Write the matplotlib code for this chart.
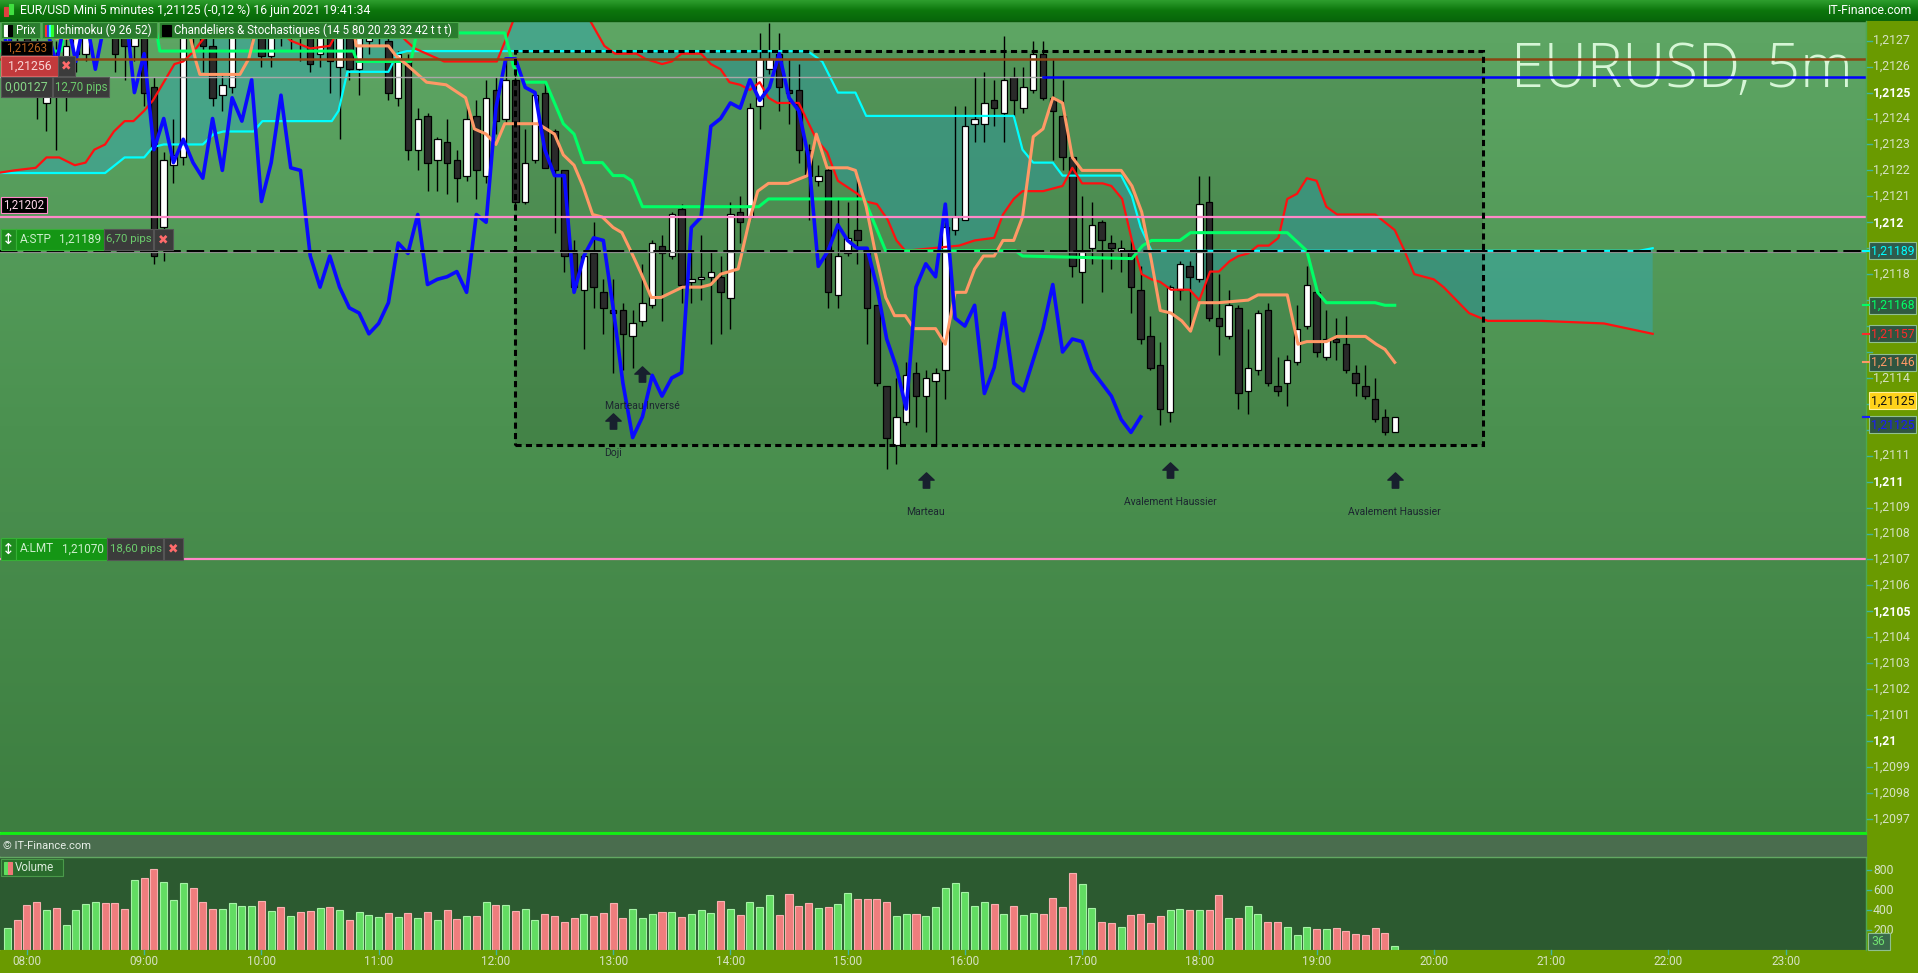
import numpy as np
import matplotlib.pyplot as plt
from matplotlib.patches import Rectangle, Polygon
from matplotlib.path import Path
from matplotlib.colors import LinearSegmentedColormap

plt.rcParams['font.family'] = ['Roboto', 'DejaVu Sans']

# ---------------- data : EUR/USD 5 minutes, bar 0 = 07:50 ----------------
opens = [
    1.21270, 1.21285, 1.21272, 1.21262, 1.21246, 1.21262, 1.21250, 1.21265, 1.21265, 1.21285,
    1.21298, 1.21290, 1.21275, 1.21268, 1.21298, 1.21252, 1.21198, 1.21222, 1.21225, 1.21288,
    1.21280, 1.21268, 1.21249, 1.21252, 1.21285, 1.21290, 1.21300, 1.21264, 1.21292, 1.21280,
    1.21292, 1.21280, 1.21265, 1.21282, 1.21260, 1.21280, 1.21259, 1.21270, 1.21272, 1.21270,
    1.21248, 1.21263, 1.21228, 1.21241, 1.21224, 1.21231, 1.21224, 1.21218, 1.21241, 1.21218,
    1.21251, 1.21240, 1.21255, 1.21208, 1.21224, 1.21250, 1.21235, 1.21220, 1.21188, 1.21174,
    1.21188, 1.21173, 1.21166, 1.21166, 1.21156, 1.21162, 1.21168, 1.21191, 1.21187, 1.21205,
    1.21177, 1.21178, 1.21179, 1.21179, 1.21171, 1.21204, 1.21202, 1.21245, 1.21259, 1.21265,
    1.21251, 1.21251, 1.21228, 1.21216, 1.21220, 1.21172, 1.21188, 1.21197, 1.21189, 1.21168,
    1.21137, 1.21114, 1.21123, 1.21142, 1.21133, 1.21139, 1.21143, 1.21197, 1.21201, 1.21238,
    1.21238, 1.21247, 1.21242, 1.21256, 1.21244, 1.21251, 1.21265, 1.21248, 1.21241, 1.21225,
    1.21181, 1.21190, 1.21200, 1.21192, 1.21189, 1.21189, 1.21174, 1.21156, 1.21145, 1.21127,
    1.21174, 1.21183, 1.21178, 1.21208, 1.21163, 1.21156, 1.21167, 1.21135, 1.21143, 1.21166,
    1.21137, 1.21138, 1.21146, 1.21160, 1.21173, 1.21148, 1.21155, 1.21153, 1.21142, 1.21137,
    1.21132, 1.21125, 1.21119]
highs = [
    1.21290, 1.21295, 1.21280, 1.21275, 1.21266, 1.21270, 1.21275, 1.21285, 1.21300, 1.21305,
    1.21310, 1.21295, 1.21290, 1.21305, 1.21305, 1.21256, 1.21227, 1.21240, 1.21290, 1.21300,
    1.21288, 1.21275, 1.21257, 1.21292, 1.21305, 1.21310, 1.21305, 1.21298, 1.21300, 1.21298,
    1.21296, 1.21285, 1.21288, 1.21285, 1.21285, 1.21285, 1.21285, 1.21290, 1.21290, 1.21280,
    1.21266, 1.21265, 1.21244, 1.21242, 1.21233, 1.21240, 1.21228, 1.21246, 1.21247, 1.21255,
    1.21256, 1.21263, 1.21259, 1.21236, 1.21250, 1.21254, 1.21236, 1.21220, 1.21193, 1.21189,
    1.21200, 1.21178, 1.21178, 1.21169, 1.21166, 1.21184, 1.21193, 1.21195, 1.21204, 1.21207,
    1.21189, 1.21195, 1.21189, 1.21187, 1.21208, 1.21210, 1.21246, 1.21273, 1.21277, 1.21273,
    1.21263, 1.21261, 1.21230, 1.21222, 1.21221, 1.21209, 1.21208, 1.21218, 1.21190, 1.21168,
    1.21137, 1.21140, 1.21146, 1.21146, 1.21143, 1.21144, 1.21200, 1.21245, 1.21245, 1.21256,
    1.21258, 1.21255, 1.21272, 1.21260, 1.21260, 1.21270, 1.21270, 1.21263, 1.21255, 1.21226,
    1.21210, 1.21208, 1.21201, 1.21195, 1.21193, 1.21193, 1.21183, 1.21164, 1.21154, 1.21176,
    1.21185, 1.21185, 1.21218, 1.21218, 1.21180, 1.21174, 1.21168, 1.21159, 1.21166, 1.21169,
    1.21148, 1.21149, 1.21168, 1.21183, 1.21173, 1.21166, 1.21163, 1.21164, 1.21145, 1.21145,
    1.21140, 1.21128, 1.21125]
lows = [
    1.21262, 1.21265, 1.21255, 1.21240, 1.21235, 1.21228, 1.21243, 1.21258, 1.21262, 1.21278,
    1.21280, 1.21258, 1.21255, 1.21262, 1.21245, 1.21184, 1.21185, 1.21215, 1.21222, 1.21265,
    1.21258, 1.21245, 1.21243, 1.21250, 1.21272, 1.21268, 1.21260, 1.21260, 1.21268, 1.21266,
    1.21262, 1.21258, 1.21260, 1.21250, 1.21232, 1.21255, 1.21249, 1.21265, 1.21268, 1.21247,
    1.21245, 1.21224, 1.21220, 1.21212, 1.21212, 1.21211, 1.21208, 1.21216, 1.21209, 1.21215,
    1.21234, 1.21238, 1.21206, 1.21207, 1.21223, 1.21221, 1.21196, 1.21181, 1.21173, 1.21151,
    1.21167, 1.21157, 1.21142, 1.21143, 1.21144, 1.21160, 1.21167, 1.21162, 1.21186, 1.21169,
    1.21169, 1.21170, 1.21153, 1.21157, 1.21159, 1.21192, 1.21201, 1.21236, 1.21257, 1.21243,
    1.21238, 1.21223, 1.21201, 1.21214, 1.21167, 1.21167, 1.21187, 1.21184, 1.21153, 1.21137,
    1.21105, 1.21107, 1.21122, 1.21121, 1.21119, 1.21114, 1.21132, 1.21195, 1.21201, 1.21231,
    1.21231, 1.21237, 1.21231, 1.21241, 1.21242, 1.21250, 1.21247, 1.21224, 1.21220, 1.21179,
    1.21169, 1.21184, 1.21173, 1.21182, 1.21181, 1.21165, 1.21153, 1.21143, 1.21122, 1.21123,
    1.21170, 1.21158, 1.21177, 1.21162, 1.21149, 1.21155, 1.21128, 1.21126, 1.21141, 1.21137,
    1.21133, 1.21129, 1.21145, 1.21159, 1.21148, 1.21147, 1.21147, 1.21142, 1.21133, 1.21132,
    1.21123, 1.21118, 1.21119]
closes = [
    1.21285, 1.21272, 1.21262, 1.21251, 1.21262, 1.21250, 1.21268, 1.21280, 1.21292, 1.21298,
    1.21285, 1.21265, 1.21268, 1.21298, 1.21250, 1.21187, 1.21224, 1.21226, 1.21285, 1.21280,
    1.21268, 1.21248, 1.21253, 1.21285, 1.21295, 1.21300, 1.21264, 1.21290, 1.21280, 1.21292,
    1.21275, 1.21261, 1.21280, 1.21262, 1.21280, 1.21259, 1.21278, 1.21283, 1.21285, 1.21250,
    1.21265, 1.21228, 1.21240, 1.21223, 1.21232, 1.21223, 1.21217, 1.21240, 1.21220, 1.21248,
    1.21239, 1.21255, 1.21208, 1.21223, 1.21249, 1.21221, 1.21220, 1.21187, 1.21175, 1.21187,
    1.21175, 1.21167, 1.21165, 1.21157, 1.21161, 1.21169, 1.21192, 1.21188, 1.21203, 1.21176,
    1.21178, 1.21179, 1.21181, 1.21173, 1.21203, 1.21200, 1.21244, 1.21263, 1.21263, 1.21252,
    1.21250, 1.21228, 1.21218, 1.21218, 1.21173, 1.21187, 1.21194, 1.21193, 1.21167, 1.21138,
    1.21117, 1.21125, 1.21141, 1.21133, 1.21140, 1.21142, 1.21198, 1.21202, 1.21237, 1.21240,
    1.21246, 1.21244, 1.21255, 1.21247, 1.21252, 1.21265, 1.21248, 1.21243, 1.21225, 1.21183,
    1.21189, 1.21199, 1.21193, 1.21190, 1.21190, 1.21175, 1.21155, 1.21144, 1.21128, 1.21175,
    1.21184, 1.21179, 1.21207, 1.21163, 1.21160, 1.21168, 1.21134, 1.21144, 1.21165, 1.21138,
    1.21135, 1.21147, 1.21159, 1.21176, 1.21150, 1.21155, 1.21154, 1.21143, 1.21138, 1.21133,
    1.21124, 1.21119, 1.21125]
volumes = [
    217, 297, 447, 477, 397, 417, 247, 397, 457, 477,
    467, 467, 407, 697, 717, 807, 677, 497, 667, 617,
    477, 407, 407, 467, 437, 437, 487, 387, 427, 337,
    377, 387, 417, 427, 397, 297, 377, 347, 327, 367,
    327, 367, 317, 377, 297, 397, 307, 337, 337, 477,
    447, 447, 387, 407, 297, 357, 337, 277, 317, 357,
    337, 367, 467, 317, 407, 317, 357, 377, 377, 327,
    357, 397, 367, 487, 407, 347, 477, 427, 547, 347,
    557, 437, 467, 417, 427, 457, 567, 507, 507, 507,
    477, 337, 357, 357, 337, 427, 617, 667, 577, 437,
    477, 457, 357, 437, 347, 367, 357, 517, 427, 767,
    657, 417, 277, 267, 227, 347, 357, 267, 337, 397,
    407, 397, 397, 397, 547, 317, 317, 437, 357, 277,
    277, 227, 147, 227, 207, 207, 217, 187, 157, 147,
    217, 167, 36]

# Ichimoku (9 26 52) lines, read as (bar, price) vertices
tenkan_x = [-1, 4.5, 5, 7, 8, 17.5, 18.5, 19.3, 19.7, 23.8, 24.7, 25.5, 30, 35, 35.7, 39, 39.8, 40.8, 42.9,
            44.9, 46.9, 47.8, 49, 50, 50.9, 54.3, 56, 56.9, 58, 58.9, 59.9, 60.9, 62, 62.9, 63.8, 64.9, 65.9,
            66.9, 68, 69.1, 71, 72, 73, 74.8, 75.9, 76.8, 77.9, 79.9, 81.9, 82.8, 83.9, 86, 86.8, 87.9, 88.8,
            89.9, 90.8, 91.9, 92.8, 95, 96, 97, 98.1, 99, 99.9, 101, 101.9, 103, 103.9, 105, 106, 107, 108,
            109, 110, 114, 115.1, 116.1, 117.1, 118, 119.1, 120.2, 121.1, 122, 124, 127, 128, 131, 132.1,
            133, 135, 136.1, 139, 140.1, 141, 142]
tenkan_y = [1.21285, 1.21280, 1.21271, 1.21271, 1.21290, 1.21290, 1.21275, 1.21262, 1.21257, 1.21257,
            1.21263, 1.21275, 1.21300, 1.21285, 1.21268, 1.21268, 1.21264, 1.21261, 1.21254, 1.21253,
            1.21248, 1.21236, 1.21234, 1.21230, 1.21238, 1.21238, 1.21234, 1.21226, 1.21222, 1.21214,
            1.21203, 1.21202, 1.21198, 1.21196, 1.21189, 1.21180, 1.21171, 1.21171, 1.21173, 1.21175,
            1.21175, 1.21176, 1.21180, 1.21182, 1.21200, 1.21212, 1.21215, 1.21215, 1.21218, 1.21234,
            1.21221, 1.21221, 1.21220, 1.21206, 1.21189, 1.21171, 1.21164, 1.21164, 1.21159, 1.21159,
            1.21153, 1.21173, 1.21173, 1.21182, 1.21187, 1.21187, 1.21193, 1.21193, 1.21202, 1.21233,
            1.21236, 1.21248, 1.21246, 1.21225, 1.21220, 1.21220, 1.21214, 1.21204, 1.21185, 1.21166,
            1.21165, 1.21162, 1.21158, 1.21169, 1.21169, 1.21170, 1.21172, 1.21172, 1.21153, 1.21154,
            1.21154, 1.21156, 1.21156, 1.21153, 1.21151, 1.21146]
kijun_x = [-1, 5.5, 6.5, 14.5, 15.6, 35.4, 35.8, 41.3, 41.9, 50.9, 51.8, 52.9, 55.1, 56, 56.9, 58, 59, 60.9,
           62, 63.1, 63.9, 65, 76.9, 77.9, 87.7, 89.9, 103.2, 103.9, 115.1, 116.2, 117.1, 120, 121.1, 131,
           133, 134.1, 135, 140, 141, 142]
kijun_y = [1.21266, 1.21266, 1.21290, 1.21290, 1.21266, 1.21266, 1.21262, 1.21262, 1.21273, 1.21273,
           1.21260, 1.21254, 1.21254, 1.21246, 1.21238, 1.21234, 1.21223, 1.21223, 1.21218, 1.21218,
           1.21216, 1.21206, 1.21206, 1.21209, 1.21209, 1.21189, 1.21189, 1.21187, 1.21186, 1.21191,
           1.21193, 1.21193, 1.21196, 1.21196, 1.21189, 1.21173, 1.21169, 1.21169, 1.21168, 1.21168]
senkou_a_x = [-1, 0.7, 2.9, 4, 5.3, 6.9, 8, 8.9, 10, 10.9, 12, 12.9, 14, 14.9, 16, 17.1, 18, 19.1, 19.9, 21,
              26, 29, 31, 33, 34, 37, 40.8, 41.7, 44.7, 50.1, 51.4, 52.5, 55, 58, 59.6, 61.1, 62.2, 64.4,
              65.3, 67, 68, 69, 71, 72, 73, 73.9, 75, 76, 77, 77.9, 78.8, 81, 81.9, 82.8, 83.9, 85, 87, 87.9,
              89, 90.1, 91, 91.9, 97.4, 99, 101, 101.9, 103, 103.9, 106, 108, 109, 110, 112.1, 113, 114.1,
              115.1, 116.1, 117.1, 118, 119.1, 121, 122, 123.1, 124, 125.1, 126, 127, 128, 129.1, 130.1, 131,
              132, 133, 134, 135, 136.1, 140, 141, 142, 143, 144, 145, 146, 147, 149.6, 151.5, 157, 163.4,
              168.4]
senkou_a_y = [1.21219, 1.21220, 1.21221, 1.21225, 1.21225, 1.21222, 1.21223, 1.21228, 1.21230, 1.21235,
              1.21239, 1.21239, 1.21243, 1.21247, 1.21254, 1.21261, 1.21262, 1.21266, 1.21270, 1.21275,
              1.21280, 1.21270, 1.21267, 1.21268, 1.21275, 1.21285, 1.21270, 1.21267, 1.21262, 1.21262,
              1.21274, 1.21285, 1.21295, 1.21290, 1.21278, 1.21268, 1.21265, 1.21265, 1.21263, 1.21261,
              1.21262, 1.21265, 1.21265, 1.21261, 1.21259, 1.21254, 1.21253, 1.21251, 1.21254, 1.21248,
              1.21246, 1.21246, 1.21239, 1.21232, 1.21227, 1.21216, 1.21211, 1.21208, 1.21207, 1.21201,
              1.21193, 1.21189, 1.21191, 1.21193, 1.21194, 1.21203, 1.21209, 1.21212, 1.21212, 1.21214,
              1.21221, 1.21215, 1.21215, 1.21214, 1.21209, 1.21193, 1.21180, 1.21178, 1.21177, 1.21174,
              1.21174, 1.21170, 1.21181, 1.21181, 1.21185, 1.21187, 1.21188, 1.21191, 1.21191, 1.21194,
              1.21209, 1.21211, 1.21217, 1.21216, 1.21206, 1.21203, 1.21203, 1.21200, 1.21197, 1.21189,
              1.21180, 1.21179, 1.21178, 1.21175, 1.21165, 1.21162, 1.21162, 1.21161, 1.21157]
senkou_b_x = [-1, 10, 12, 14, 14.9, 16, 20, 21.1, 22.1, 25.2, 26.1, 33.2, 33.9, 34.8, 39, 39.9, 40.9, 81.9,
              83.4, 85, 86.8, 87.9, 103, 103.9, 105, 107, 108, 114, 115.1, 116, 117.1, 167, 168.4]
senkou_b_y = [1.21219, 1.21219, 1.21225, 1.21225, 1.21229, 1.21230, 1.21230, 1.21234, 1.21235, 1.21235,
              1.21239, 1.21239, 1.21243, 1.21258, 1.21258, 1.21265, 1.21266, 1.21266, 1.21262, 1.21250,
              1.21250, 1.21241, 1.21241, 1.21228, 1.21223, 1.21223, 1.21218, 1.21218, 1.21210, 1.21198,
              1.21189, 1.21189, 1.21190]
chikou_shift = 26

# horizontal order / alert levels
lvl_brown = 1.21263
lvl_order = 1.21256
lvl_order_from = 106
lvl_pink_hi = 1.21202
lvl_stop = 1.21189
lvl_limit = 1.21070
box_bars = (52, 151)
box_prices = (1.21114, 1.21266)

patterns = ['Doji', 'Marteau Inversé', 'Marteau', 'Avalement Haussier', 'Avalement Haussier']
pattern_bars = [62, 65, 94, 119, 142]

hour_labels = ['08:00', '09:00', '10:00', '11:00', '12:00', '13:00', '14:00', '15:00',
               '16:00', '17:00', '18:00', '19:00', '20:00', '21:00', '22:00', '23:00']

right_tags = [  # value, text colour, background, pixel shift
    ('1,21189', '#00ffff', '#2f5b4c', 0), ('1,21168', '#00ff66', '#2f5b40', 0),
    ('1,21157', '#ff2a2a', '#2f5540', 0), ('1,21146', '#ff9966', '#2f5540', 0),
    ('1,21125', '#111111', '#ffd21a', -16), ('1,21125', '#1a1aff', '#2f5540', 8)]
tag_prices = [1.21189, 1.21168, 1.21157, 1.21146, 1.21125, 1.21125]

# ---------------- layout (pixels) ----------------
W, H = 1918, 973
RX = 1866
X0PX, BARPX = 7.4, 9.77
P0, Y0PX, PIPPX = 1.2127, 40.7, 25.94
OLIVE = '#6a9a00'


def ypx(p):
    return Y0PX + (P0 - p) / 1e-4 * PIPPX


def xpx(b):
    return X0PX + BARPX * b


fig = plt.figure(figsize=(W / 100, H / 100), dpi=100)


def px_axes(x0, y0, x1, y1, z):
    a = fig.add_axes([x0 / W, 1 - y1 / H, (x1 - x0) / W, (y1 - y0) / H], zorder=z)
    a.set_axis_off()
    return a


xlim = (-X0PX / BARPX, (RX - X0PX) / BARPX)

# ---- price panel ----
ax = px_axes(0, 21, RX, 832, 1)
ylim = (P0 - (832 - Y0PX) / PIPPX * 1e-4, P0 + (Y0PX - 21) / PIPPX * 1e-4)
bg = LinearSegmentedColormap.from_list('bg', ['#5ea664', '#4b9150', '#3d7e40'])
ax.imshow(np.linspace(0, 1, 256)[:, None], extent=(*xlim, *ylim), aspect='auto',
          cmap=bg, origin='upper', zorder=0)
ax.set_xlim(xlim)
ax.set_ylim(ylim)

# cloud
cloud = np.column_stack([np.r_[senkou_a_x, senkou_b_x[::-1]], np.r_[senkou_a_y, senkou_b_y[::-1]]])
ax.add_patch(Polygon(cloud, closed=True, fc='#3aa6a0', ec='none', alpha=0.62, zorder=1))

# pattern box
ax.add_patch(Rectangle((box_bars[0], box_prices[0]), box_bars[1] - box_bars[0],
                       box_prices[1] - box_prices[0], fc='black', alpha=0.09, ec='none', zorder=1.2))

# candles
bars = np.arange(len(closes))
ax.vlines(bars, lows, highs, color='black', lw=1.0, zorder=3)
for i, (o, c) in enumerate(zip(opens, closes)):
    bull = c >= o
    lo = min(o, c)
    hgt = max(abs(c - o), 0.000004)
    ax.add_patch(Rectangle((i - 0.33, lo), 0.66, hgt, fc='white' if bull else '#2a2a2a',
                           ec='black', lw=0.9, zorder=3.5))

# ichimoku
ax.plot(senkou_b_x, senkou_b_y, color='#00ffff', lw=1.6, zorder=4)
ax.plot(senkou_a_x, senkou_a_y, color='#ff1010', lw=1.6, zorder=4)
ax.plot(kijun_x, kijun_y, color='#00ff66', lw=2.2, zorder=4.2)
ax.plot(tenkan_x, tenkan_y, color='#ff9966', lw=2.2, zorder=4.3)
ax.plot(bars - chikou_shift, closes, color='#0a0aff', lw=2.6, zorder=4.5)

# order lines
ax.axhline(lvl_brown, color='#8b4513', lw=1.8, zorder=5)
ax.plot([xlim[0], lvl_order_from], [lvl_order] * 2, color='#a8a8a8', lw=1.0, zorder=5)
ax.plot([lvl_order_from, xlim[1]], [lvl_order] * 2, color='#0000ff', lw=1.8, zorder=5)
ax.axhline(lvl_pink_hi, color='#ff88c8', lw=1.6, zorder=5)
ax.axhline(lvl_stop - 0.000004, color='#8c8c8c', lw=0.9, zorder=5)
ax.axhline(lvl_stop, color='black', lw=1.4, dashes=(9, 3), zorder=5.1)
ax.axhline(lvl_limit, color='#ff88c8', lw=1.6, zorder=5)
ax.add_patch(Rectangle((box_bars[0], box_prices[0]), box_bars[1] - box_bars[0],
                       box_prices[1] - box_prices[0], fc='none', ec='black', lw=2.2,
                       ls=(0, (2.0, 1.4)), zorder=6))

# candle patterns: fat up arrow below the bar, name below the arrow
up_arrow = Path([(0, 1), (1, 0.05), (0.42, 0.05), (0.42, -1), (-0.42, -1), (-0.42, 0.05),
                 (-1, 0.05), (0, 1)], closed=True)
arrow_gap, label_gap = 48 / PIPPX * 1e-4, 80 / PIPPX * 1e-4
for name, b in zip(patterns, pattern_bars):
    ax.plot(b, lows[b] - arrow_gap, marker=up_arrow, ms=11, color='#18202e', zorder=7)
    ax.text(b, lows[b] - label_gap, name, ha='center', va='center', fontsize=7.5,
            color='#1c2630', zorder=7)

# ---- volume panel ----
vax = px_axes(0, 857, RX, 950, 1)
vax.set_xlim(xlim)
vax.set_ylim(0, 930)
vax.add_patch(Rectangle((0, 0), 1, 1, transform=vax.transAxes, fc='#2c5a30', zorder=0))
up = np.array(closes) >= np.array(opens)
vax.bar(bars, volumes, width=0.72, color=np.where(up, '#62dc62', '#ef7d7d'),
        edgecolor=np.where(up, '#a6f2a6', '#f8b0b0'), lw=0.8, zorder=2)

# ---- overlay: frame, axes, labels ----
ov = px_axes(0, 0, W, H, 10)
tcm = LinearSegmentedColormap.from_list('t', ['#2e9e2e', '#0c760c', '#07660a'])
ov.imshow(np.linspace(0, 1, 64)[:, None], extent=(0, W, 21, 0), aspect='auto', cmap=tcm,
          origin='upper', zorder=1)
ov.set_xlim(0, W)
ov.set_ylim(H, 0)


def box(x0, y0, x1, y1, fc, ec=None, lw=0.8, z=20):
    ov.add_patch(Rectangle((x0, y0), x1 - x0, y1 - y0, fc=fc, ec=ec or fc, lw=lw, zorder=z))


def txt(x, y, s, c, fs=8.5, ha='left', z=22, **kw):
    ov.text(x, y, s, color=c, fontsize=fs, ha=ha, va='center', zorder=z, **kw)


# title bar
box(4, 7, 8, 16, '#e04040', z=21)
box(9, 4, 13, 14, '#40e040', z=21)
txt(20, 10.5, 'EUR/USD Mini 5 minutes 1,21125 (-0,12 %) 16 juin 2021 19:41:34', 'white', 8.8)
txt(1912, 10.5, 'IT-Finance.com', 'white', 8.8, ha='right')
ov.plot([0, W], [21, 21], color='#0a5a0a', lw=1, zorder=2)

# legend row
for x0, x1, label in [(1, 40, 'Prix'), (41.5, 157, 'Ichimoku (9 26 52)'),
                      (158.5, 457.6, 'Chandeliers & Stochastiques (14 5 80 20 23 32 42 t t t)')]:
    box(x0, 22, x1, 38, '#2a7c2e', '#4aa84a')
    txt(x0 + 15, 30, label, 'white', 8.3)
box(4, 24.5, 8, 35.5, 'white', z=21)
box(8, 24.5, 12, 35.5, 'black', z=21)
for k, c in enumerate(['#ff3030', '#3030ff', '#30ffff', '#30ff30']):
    box(44.5 + 2 * k, 24.5, 46.5 + 2 * k, 35.5, c, z=21)
box(161.5, 24.5, 171, 35.5, 'black', z=21)

# right price axis
box(RX, 21, W, H, OLIVE, z=3)
box(0, 950, RX, H, OLIVE, z=3)
ov.plot([RX, RX], [21, 950], color='#4ea84e', lw=1, zorder=4)
tag_y = [ypx(p) + t[3] for p, t in zip(tag_prices, right_tags)]
for k in range(12097, 12128):
    p = k / 10000
    y = ypx(p)
    s = f'{p:.4f}'.rstrip('0').replace('.', ',')
    bold = k % 5 == 0
    ov.plot([RX + 1, RX + 6], [y, y], color='#3fb3a0', lw=1, zorder=5)
    if min(abs(y - t) for t in tag_y) > 12:
        txt(RX + 7, y, s, 'white' if bold else '#d6e2c4', 8.8,
            fontweight='bold' if bold else 'normal')
for (s, tc, fc, dy), p in zip(right_tags, tag_prices):
    y = ypx(p) + dy
    box(RX + 3, y - 8.5, W - 2, y + 8.5, fc, '#8fbf8f' if fc != '#ffd21a' else '#fff199', z=24)
    ov.plot([RX - 3, RX + 3], [ypx(p)] * 2, color=tc, lw=1.5, zorder=24)
    txt(RX + 5, y, s, tc, 8.8, z=25)

# separator between panels
box(0, 832, RX, 834.5, '#14ee14', z=6)
box(0, 834.5, RX, 856, '#4a6d4e', z=6)
ov.plot([0, RX], [856.5, 856.5], color='#62a862', lw=1, zorder=7)
txt(3, 846, '© IT-Finance.com', '#e8efe8', 8)

# volume legend and axis
box(1, 859, 63, 876, '#2a6b2d', '#4a9a4a')
box(4, 861.5, 8, 873.5, '#5fe05f', z=21)
box(8, 861.5, 12, 873.5, '#ef7777', z=21)
txt(15, 867.5, 'Volume', '#dcecdc', 8.3)
for v in [200, 400, 600, 800]:
    y = 950 - v / 10
    ov.plot([RX + 1, RX + 5], [y, y], color='#3fb3a0', lw=1, zorder=5)
    txt(RX + 7, y, str(v), '#d6e2c4', 8.8)
box(RX + 2, 933, RX + 24, 950, '#3a6a4a', '#8fbf8f', z=24)
txt(RX + 5, 941.5, str(volumes[-1]), '#70e070', 8.8, z=25)

# time axis
for lab in hour_labels:
    b = (int(lab[:2]) * 60 - (7 * 60 + 50)) / 5
    x = xpx(b)
    ov.plot([x, x], [950, 954], color='#3fb3a0', lw=1, zorder=5)
    txt(x, 961.5, lab, '#d6e2c4', 8.5, ha='center')

# left order labels
box(1, 41, 52, 55, 'black', '#3a3a3a')
txt(26.5, 48, '1,21263', '#b8641e', 8.3, ha='center')
box(1, 56, 58, 76, '#c23a3c', '#e06464')
txt(29.5, 66, '1,21256', '#f8d6d6', 8.8, ha='center')
box(58, 56, 75, 76, '#3b3b3b', '#555555')
txt(66.5, 66, '✖', '#ff6b6b', 9, ha='center', family='DejaVu Sans')
box(1, 77, 52, 97, '#3a3a3a', '#555555')
txt(26.5, 87, '0,00127', '#86d686', 8.8, ha='center')
box(53, 77, 109, 97, '#3a3a3a', '#555555')
txt(81, 87, '12,70 pips', '#6ccc6c', 8.3, ha='center')
box(1, 197, 47, 213, 'black', '#ff88c8')
txt(24, 205, '1,21202', '#ffd6ea', 8.3, ha='center')

for y0, y1, kind, price, pips, x1, x2, x3 in [
        (229, 250, 'A:STP', '1,21189', '6,70 pips', 104, 154, 173),
        (538, 560, 'A:LMT', '1,21070', '18,60 pips', 107, 164, 183)]:
    ym = (y0 + y1) / 2
    box(1, y0, 16, y1, '#1e8c1e', '#36b036')
    txt(8.5, ym, '↕', 'white', 11, ha='center', family='DejaVu Sans')
    box(16, y0, x1, y1, '#159615', '#36b036')
    txt(20, ym, kind, '#cdeecd', 8.5)
    txt(x1 - 3, ym, price, '#cdeecd', 8.5, ha='right')
    box(x1, y0, x2 - 1, y1, '#3b3b3b', '#555555')
    txt((x1 + x2) / 2, ym, pips, '#6ccc6c', 8.2, ha='center')
    box(x2, y0, x3, y1, '#3b3b3b', '#555555')
    txt((x2 + x3) / 2, ym, '✖', '#ff6b6b', 9, ha='center', family='DejaVu Sans')

# watermark, behind the price lines
ax.text(1853, 87, 'EURUSD, 5m', transform=ov.transData, ha='right', va='baseline', fontsize=43,
        color='#d6f6d6', fontweight='light', family=['Open Sans', 'DejaVu Sans'], zorder=0.5)

fig.savefig('out.png', dpi=100)
